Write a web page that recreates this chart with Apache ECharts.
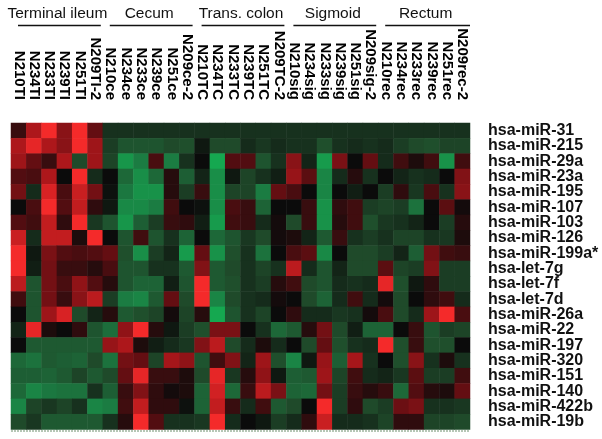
<!DOCTYPE html>
<html>
<head>
<meta charset="utf-8">
<script src="https://cdn.jsdelivr.net/npm/echarts@6/dist/echarts.min.js"></script>
<style>
html,body{margin:0;padding:0;background:#fff;}
#main{width:602px;height:439px;}
</style>
</head>
<body>
<div id="main"></div>
<script>
var groupNames = ['Terminal ileum', 'Cecum', 'Trans. colon', 'Sigmoid', 'Rectum'];
var samples = [
  'N210TI','N234TI','N233TI','N239TI','N251TI','N209TI-2',
  'N210ce','N234ce','N233ce','N239ce','N251ce','N209ce-2',
  'N210TC','N234TC','N233TC','N239TC','N251TC','N209TC-2',
  'N210sig','N234sig','N233sig','N239sig','N251sig','N209sig-2',
  'N210rec','N234rec','N233rec','N239rec','N251rec','N209rec-2'
];
var mirnas = [
  'hsa-miR-31','hsa-miR-215','hsa-miR-29a','hsa-miR-23a','hsa-miR-195',
  'hsa-miR-107','hsa-miR-103','hsa-miR-126','hsa-miR-199a*','hsa-let-7g',
  'hsa-let-7f','hsa-let-7d','hsa-miR-26a','hsa-miR-22','hsa-miR-197',
  'hsa-miR-320','hsa-miR-151','hsa-miR-140','hsa-miR-422b','hsa-miR-19b'
];
// values per group: rows = miRNAs (top to bottom), columns = 6 samples
var terminalIleum = [
  [0.5, 2, 3, 1.5, 3, 1],
  [2, 2.8, 2, 1.5, 3, 1.8],
  [1.8, 1, 0.5, 2, -1, 1.8],
  [0.8, 0.7, 2, 0, 3, -0.5],
  [1.2, -0.5, 2.6, 0.7, 2.4, 1.2],
  [0, 0.7, 3, 0.8, 2.3, 0.4],
  [0.8, 0.6, 2.3, 0.4, 3, -0.7],
  [2.4, -0.5, 2.3, 2.3, 0.2, 3],
  [3, -0.2, 1.3, 0.8, 0.7, 0.8],
  [3, -0.3, 1.2, 0.5, 0.5, 0.3],
  [2.2, -1.2, 1.2, 0.7, 1.6, 0.8],
  [0.6, -1.2, 1.2, 0.5, 1.5, 2.2],
  [0, -1.2, 1.8, 2.6, -1, -0.4],
  [-0.4, 2.8, 0.2, 0, 0.4, -1.2],
  [0, -1.3, -1.3, -1.3, -1.3, -1.3],
  [-1.6, -1.8, -1.3, -1.4, -1.5, -1.0],
  [-1.4, -1.4, -1.5, -1.3, -0.9, -1.3],
  [-1.6, -2.2, -1.9, -1.8, -1.8, -0.6],
  [-2.2, -0.9, -0.7, -0.9, -0.6, -2.2],
  [-1.0, -0.7, -1.3, -1.3, -1.3, -1.3]
];
var cecum = [
  [-0.6, -0.6, -0.6, -0.6, -0.6, -0.6],
  [-0.8, -1.2, -1.2, -1.2, -1.0, -1.1],
  [-0.9, -2.6, -2.0, 0.7, -2.0, -0.6],
  [0, -1.6, -2.4, -1.6, 0.3, -1.4],
  [-0.1, -1.9, -2.5, -2.5, 0.3, -0.8],
  [-0.2, -2.3, -2.3, -2.0, 0.6, 0],
  [-1.2, -2.6, -1.4, -0.8, 0.5, 0.4],
  [0, -1.2, 0.6, -1.2, -0.6, -1.5],
  [1.0, -1.1, -2.4, -0.8, -0.4, -2.7],
  [0.7, -1.2, -1.2, -0.6, -0.6, -1.3],
  [0.3, -1.2, -1.5, -1.5, -0.3, -1.2],
  [-0.8, -2.0, -2.2, -1.3, 1.0, -1.0],
  [0.3, -1.3, -1.1, -0.9, 0.1, -0.9],
  [-1.7, 1.6, 3, 0.3, -0.2, -0.8],
  [1.7, 2.0, 0.2, -0.3, -0.5, -0.7],
  [-1.8, 1.2, 1.0, -0.9, 1.9, 1.6],
  [-1.0, 1.0, 2.8, 0.5, 0.5, 0.2],
  [-1.4, 0.5, 1.4, 0.4, 0.1, 0.2],
  [-2.0, 0.6, 2.3, 0.4, 0.4, -0.1],
  [-0.6, 0.3, 3, 0.8, -0.6, -0.6]
];
var transColon = [
  [-0.6, -0.6, -0.6, -0.6, -0.6, -0.6],
  [-0.2, -1.0, -1.0, -0.5, -0.7, -0.5],
  [0, -3.0, 0.8, 0.8, -1.2, -0.6],
  [-0.4, -2.4, -0.2, -0.9, -0.6, -0.3],
  [0.5, -2.4, -0.9, -0.9, -2.0, 1.0],
  [-0.1, -2.4, 0.7, 0.5, -1.5, 0],
  [-0.3, -2.7, 0.6, 0.5, -0.5, 0.1],
  [0, -1.6, -1.2, -0.7, -1.0, 0.1],
  [1.0, -2.5, -1.1, -0.6, -1.8, 0],
  [1.4, -1.3, -1.0, -0.6, -0.9, -0.6],
  [3, -1.3, -1.1, -0.6, -0.8, 0.3],
  [3, -2.2, -1.0, -0.6, -0.5, 0.1],
  [0.3, -3, -1.2, -0.6, -0.9, 0],
  [-1.1, 1.3, 1.3, 0, -0.6, -1.6],
  [1.4, 2.2, -1.0, -0.5, 0.2, -0.5],
  [-1.2, 0.6, 1.4, -0.4, 1.8, -1.1],
  [-1.0, 2.8, -0.7, 0.3, 1.6, -0.2],
  [-1.5, 2.5, -1.6, 0.5, 2.2, 1.3],
  [-1.5, 2.3, 0.5, -0.5, 0.6, -1.3],
  [-0.7, 3, -0.5, 0, -0.2, -0.8]
];
var sigmoid = [
  [-0.6, -0.6, -0.6, -0.6, -0.6, -0.6],
  [-0.6, -0.6, -1.1, -0.6, -0.5, -0.6],
  [1.5, -0.4, -2.7, 1.3, 0, 1.0],
  [1.7, 0.9, -2.2, -0.5, 0.3, -0.6],
  [0.7, 0, -2.2, 0, -0.3, 0],
  [0, 0.5, -2.5, 0.4, 0.6, -0.8],
  [-1.0, 0.5, -2.5, 0.3, 0.6, -1.1],
  [0.2, -0.4, -1.3, 0.5, -0.6, -0.8],
  [0.7, 0.9, -2.3, 0, -1.0, -1.0],
  [2.2, -0.5, -1.2, -0.4, -1.0, -1.0],
  [0.6, -1.0, -1.2, -0.5, -0.6, -0.5],
  [0, -1.0, -1.5, -0.5, 0.6, -0.5],
  [0.4, -0.5, -0.5, -0.7, -0.6, 0.1],
  [-1.3, 0.3, 1.2, -1.0, -0.3, -1.5],
  [0, -1.0, 1.0, -1.1, -0.6, -0.5],
  [-2.2, -0.2, 1.7, -1.4, 1.9, -0.6],
  [-1.4, -1.3, 1.8, -0.9, 0.6, -0.5],
  [-1.5, -1.6, 1.2, -0.8, 0.5, 0.3],
  [-1.0, 0, 3, -0.8, 0.4, -1.0],
  [-0.5, 0.4, 2.4, -0.5, -0.5, -0.6]
];
var rectum = [
  [-0.6, -0.6, -0.6, -0.6, -0.6, -0.6],
  [-0.5, -0.8, -1.0, -1.1, -0.9, -0.9],
  [-0.5, 0.6, 0.2, 0.6, -2.5, 0.6],
  [0, -0.4, -0.6, -0.5, 0, 1.4],
  [-0.8, 0.4, -0.7, 0.7, -0.6, 1.5],
  [-0.9, -0.8, -1.8, 0, 0.9, 0.1],
  [-0.7, -0.6, -0.4, 0, -0.8, 0.3],
  [-0.6, -0.9, -0.9, -0.6, -0.7, 0.2],
  [-0.8, -0.4, -1.4, 1.2, 0.6, 0.5],
  [0.9, -0.9, -0.8, 1.4, -0.8, -0.8],
  [2.8, -1.1, -0.2, 0.4, -0.8, -0.8],
  [0.1, -1.0, 0, 0.4, 0.6, -0.5],
  [0.7, -1.0, -0.5, 1.8, 3, 0.7],
  [-1.5, 0, 0.5, -1.2, -0.8, -0.9],
  [3, -1.1, 0.5, -1.1, -1.1, 0],
  [0, -1.1, 1.5, -0.6, 0.2, -0.6],
  [-0.4, -0.7, 0.9, -0.8, -0.8, 0.6],
  [0.5, -1.6, 0.8, 0.3, 0.2, 1.0],
  [-0.8, 1.1, 1.3, -0.6, -0.6, -0.7],
  [-0.9, 0.4, 0.4, -0.9, -0.9, -1.0]
];

var groups = [terminalIleum, cecum, transColon, sigmoid, rectum];
var heatData = [];
groups.forEach(function (g, gi) {
  g.forEach(function (row, ri) {
    row.forEach(function (v, ci) {
      heatData.push([gi * 6 + ci, ri, v]);
    });
  });
});

var FONT = "'Liberation Sans', Arial, sans-serif";
var chart = echarts.init(document.getElementById('main'), null, {renderer: 'canvas'});
chart.setOption({
  animation: false,
  backgroundColor: '#ffffff',
  grid: {left: 11, right: 132, top: 123, bottom: 9.5, containLabel: false},
  xAxis: {
    type: 'category', data: samples, position: 'top',
    axisLine: {show: false}, axisTick: {show: false}, splitLine: {show: false},
    axisLabel: {rotate: 90, interval: 0, margin: 23, fontSize: 15, fontWeight: 'bold',
      color: '#000', fontFamily: FONT}
  },
  yAxis: {
    type: 'category', data: mirnas, position: 'right', inverse: true,
    axisLine: {show: false}, axisTick: {show: false}, splitLine: {show: false},
    axisLabel: {interval: 0, margin: 18, fontSize: 16, fontWeight: 'bold',
      color: '#111', fontFamily: FONT}
  },
  visualMap: {
    show: false, type: 'continuous', min: -3, max: 3, dimension: 2,
    inRange: {color: ['#15a850', '#1b7c42', '#1f4a2a', '#0b0b0b', '#640e12', '#ad171b', '#f42a2a']}
  },
  series: [{
    type: 'heatmap', data: heatData,
    itemStyle: {borderWidth: 0},
    emphasis: {disabled: true}
  }]
});

var graphics = [];
for (var g = 0; g < 5; g++) {
  var x0 = chart.convertToPixel({xAxisIndex: 0}, g * 6);
  var x1 = chart.convertToPixel({xAxisIndex: 0}, g * 6 + 5);
  var half = (x1 - x0) / 10;
  var start = x0 - half, end = x1 + half;
  var ls = start + 7, le = (g === 4) ? end : end - 2;
  graphics.push({
    type: 'line', silent: true,
    shape: {x1: ls, y1: 25.5, x2: le, y2: 25.5},
    style: {stroke: '#111', lineWidth: 1.5}
  });
  graphics.push({
    type: 'text', silent: true,
    x: (ls + le) / 2 - 2, y: 13.5,
    style: {text: groupNames[g], fontSize: 15.5, fontFamily: FONT, fill: '#111',
      textAlign: 'center', textVerticalAlign: 'middle'}
  });
}
var gx0 = chart.convertToPixel({xAxisIndex: 0}, 0);
var gx1 = chart.convertToPixel({xAxisIndex: 0}, 29);
var hw = (gx1 - gx0) / 58;
graphics.push({
  type: 'line', silent: true,
  shape: {x1: gx0 - hw, y1: 431, x2: gx1 + hw, y2: 431},
  style: {stroke: '#9fb59f', lineWidth: 1.5, lineDash: [2, 1]}
});
chart.setOption({graphic: graphics});
</script>
</body>
</html>
